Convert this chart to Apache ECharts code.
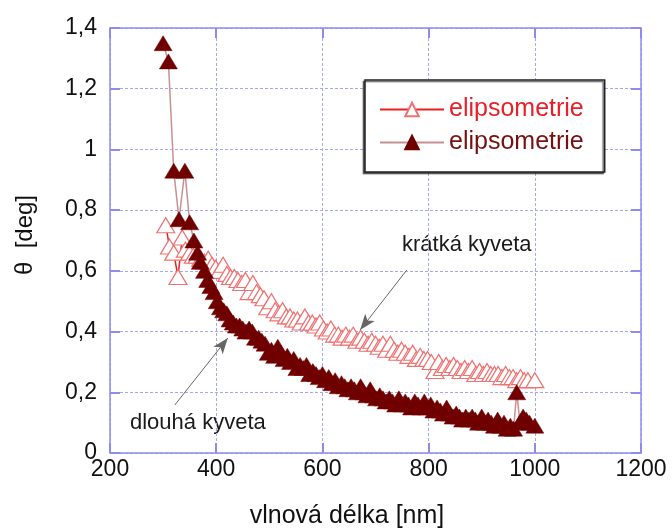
<!DOCTYPE html>
<html>
<head>
<meta charset="utf-8">
<script src="https://cdn.jsdelivr.net/npm/echarts@6/dist/echarts.min.js"></script>
<style>html,body{margin:0;padding:0;background:#fff;}#c{width:672px;height:528px;}</style>
</head>
<body>
<div id="c"></div>
<script>
// x ticks / y ticks
const xTicks = [200, 400, 600, 800, 1000, 1200];
const yTicks = [0, 0.2, 0.4, 0.6, 0.8, 1, 1.2, 1.4];
const seriesNames = ['elipsometrie', 'elipsometrie '];

// short cuvette (open triangles): [wavelength nm, theta deg]
const shortCuvette = [
[305,0.75],[312,0.68],[320,0.66],[328,0.58],[336,0.71],[342,0.67],[350,0.66],[357,0.65],[364,0.65],[371,0.64],
[378,0.63],[385,0.64],[392,0.62],[399,0.61],[406,0.60],[413,0.62],[420,0.59],[427,0.58],[434,0.58],[441,0.57],
[448,0.56],[455,0.57],[462,0.53],[469,0.56],[476,0.53],[483,0.52],[490,0.51],[497,0.48],[504,0.50],[511,0.47],
[518,0.46],[525,0.47],[532,0.45],[539,0.45],[546,0.44],[553,0.44],[560,0.43],[567,0.45],[574,0.43],[581,0.43],
[588,0.42],[595,0.43],[602,0.41],[609,0.40],[616,0.41],[623,0.39],[630,0.39],[637,0.38],[644,0.39],[651,0.38],
[658,0.39],[665,0.37],[672,0.38],[679,0.37],[686,0.36],[693,0.37],[700,0.36],[707,0.35],[714,0.36],[721,0.34],
[728,0.36],[735,0.34],[742,0.33],[749,0.34],[756,0.33],[763,0.32],[770,0.33],[777,0.31],[784,0.32],[791,0.31],
[798,0.31],[805,0.30],[812,0.27],[819,0.30],[826,0.28],[833,0.29],[840,0.28],[847,0.29],[854,0.28],[861,0.27],
[868,0.28],[875,0.27],[882,0.28],[889,0.26],[896,0.27],[903,0.26],[910,0.27],[917,0.26],[924,0.26],[931,0.26],
[938,0.25],[945,0.26],[952,0.25],[959,0.25],[966,0.24],[973,0.25],[980,0.24],[987,0.24],[1000,0.24]
];

// long cuvette (filled triangles)
const longCuvette = [
[300,1.35],[310,1.29],[320,0.93],[330,0.77],[341,0.93],[350,0.76],[358,0.70],[365,0.66],[370,0.63],[378,0.60],
[384,0.57],[390,0.55],[396,0.53],[402,0.50],[408,0.48],[414,0.47],[420,0.46],[426,0.44],[432,0.43],[438,0.42],
[444,0.42],[450,0.41],[456,0.40],[462,0.41],[468,0.40],[474,0.38],[480,0.38],[486,0.37],[492,0.36],[498,0.33],
[504,0.34],[510,0.32],[516,0.35],[522,0.33],[528,0.31],[534,0.32],[540,0.30],[546,0.31],[552,0.28],[558,0.29],
[564,0.28],[570,0.29],[576,0.26],[582,0.27],[588,0.26],[594,0.25],[600,0.26],[606,0.24],[612,0.25],[618,0.23],
[624,0.24],[630,0.22],[636,0.23],[642,0.22],[648,0.21],[654,0.22],[660,0.21],[666,0.20],[672,0.22],[678,0.20],
[684,0.19],[690,0.21],[696,0.19],[702,0.18],[708,0.19],[714,0.18],[720,0.17],[726,0.18],[732,0.17],[738,0.16],
[744,0.18],[750,0.16],[756,0.17],[762,0.16],[768,0.15],[774,0.17],[780,0.16],[786,0.15],[792,0.17],[798,0.15],
[804,0.16],[810,0.14],[816,0.15],[822,0.14],[828,0.13],[834,0.15],[840,0.13],[846,0.12],[852,0.13],[858,0.12],
[864,0.11],[870,0.12],[876,0.11],[882,0.12],[888,0.11],[894,0.10],[900,0.12],[906,0.10],[912,0.11],[918,0.10],
[924,0.09],[930,0.11],[936,0.09],[942,0.10],[948,0.08],[954,0.09],[960,0.08],[966,0.20],[972,0.10],[978,0.12],
[984,0.11],[990,0.10],[1000,0.09]
];

// annotation arrows [from, to] in data coordinates
const arrowShort = [[759, 0.603], [671, 0.405]];
const arrowLong = [[322, 0.158], [422, 0.379]];

const FONT = '"Liberation Sans", Arial, sans-serif';
const axisBlue = '#8c8cf0';
const gridBlue = '#a8a8f2';

const chart = echarts.init(document.getElementById('c'));
const fmtY = v => parseFloat(v.toFixed(1)).toString().replace('.', ',');
const fmtX = v => String(Math.round(v));

const axisCommon = {
  axisLine: { show: true, onZero: false, lineStyle: { color: axisBlue, width: 1.5 } },
  axisTick: { show: true, inside: true, length: 10, lineStyle: { color: axisBlue, width: 2 } },
};

chart.setOption({
  animation: false,
  backgroundColor: '#fff',
  grid: { left: 110, right: 31, top: 28, bottom: 75, containLabel: false },
  xAxis: [
    Object.assign({
      type: 'value', min: xTicks[0], max: xTicks[xTicks.length - 1], interval: 200,
      axisLabel: { color: '#111', fontSize: 23, fontFamily: FONT, margin: 5, formatter: fmtX },
      splitLine: { show: true, lineStyle: { color: gridBlue, type: [3, 2], width: 1 } }
    }, axisCommon),
    Object.assign({
      type: 'value', position: 'top', min: 200, max: 1200, interval: 200,
      axisLabel: { show: false }, splitLine: { show: false }
    }, axisCommon)
  ],
  yAxis: [
    Object.assign({
      type: 'value', min: 0, max: yTicks[yTicks.length - 1], interval: 0.2,
      axisLabel: { color: '#111', fontSize: 23, fontFamily: FONT, margin: 13, formatter: fmtY },
      splitLine: { show: true, lineStyle: { color: gridBlue, type: [3, 2], width: 1 } }
    }, axisCommon),
    Object.assign({
      type: 'value', position: 'right', min: 0, max: 1.4, interval: 0.2,
      axisLabel: { show: false }, splitLine: { show: false }
    }, axisCommon)
  ],
  legend: {
    left: 365, top: 80, orient: 'vertical',
    data: [
      { name: seriesNames[0], textStyle: { color: '#e8202a' } },
      { name: seriesNames[1], textStyle: { color: '#781010' } }
    ],
    itemWidth: 64, itemHeight: 17, itemGap: 8,
    padding: [17, 14, 17, 14],
    backgroundColor: '#fff', borderColor: '#222', borderWidth: 1.5,
    shadowColor: 'rgba(0,0,0,0.6)', shadowOffsetX: -1.5, shadowOffsetY: 1.5, shadowBlur: 1,
    textStyle: { fontSize: 25, fontFamily: FONT, padding: [0, 8, 0, 0] }
  },
  series: [
    {
      name: seriesNames[0], type: 'line', data: shortCuvette,
      symbol: 'triangle', symbolSize: [18, 15], z: 3,
      itemStyle: { color: '#fff', borderColor: '#f07272', borderWidth: 1.2 },
      lineStyle: { color: '#e82020', width: 1.5 },
      markLine: {
        silent: true, symbol: ['none', 'arrow'], symbolSize: [9, 16],
        label: { show: false },
        lineStyle: { color: '#666', width: 1, type: 'solid' },
        itemStyle: { color: '#111' },
        data: [
          [{ coord: arrowShort[0] }, { coord: arrowShort[1] }],
          [{ coord: arrowLong[0] }, { coord: arrowLong[1] }]
        ]
      }
    },
    {
      name: seriesNames[1], type: 'line', data: longCuvette,
      symbol: 'triangle', symbolSize: [18, 15], z: 4,
      itemStyle: { color: '#700000', borderColor: '#700000', borderWidth: 0.5 },
      lineStyle: { color: '#c89090', width: 1.5 }
    }
  ],
  graphic: [
    { type: 'text', left: 402, top: 234, style: { text: 'krátká kyveta', font: '22px ' + FONT, fill: '#1a1a1a' } },
    { type: 'text', left: 130, top: 412, style: { text: 'dlouhá kyveta', font: '22px ' + FONT, fill: '#1a1a1a' } },
    { type: 'text', x: 347, y: 516, style: { text: 'vlnová délka [nm]', font: '25px ' + FONT, fill: '#111', align: 'center', verticalAlign: 'middle' } },
    { type: 'text', x: 25, y: 235, rotation: Math.PI / 2, style: { text: 'θ  [deg]', font: '24px ' + FONT, fill: '#111', align: 'center', verticalAlign: 'middle' } }
  ]
});
</script>
</body>
</html>
